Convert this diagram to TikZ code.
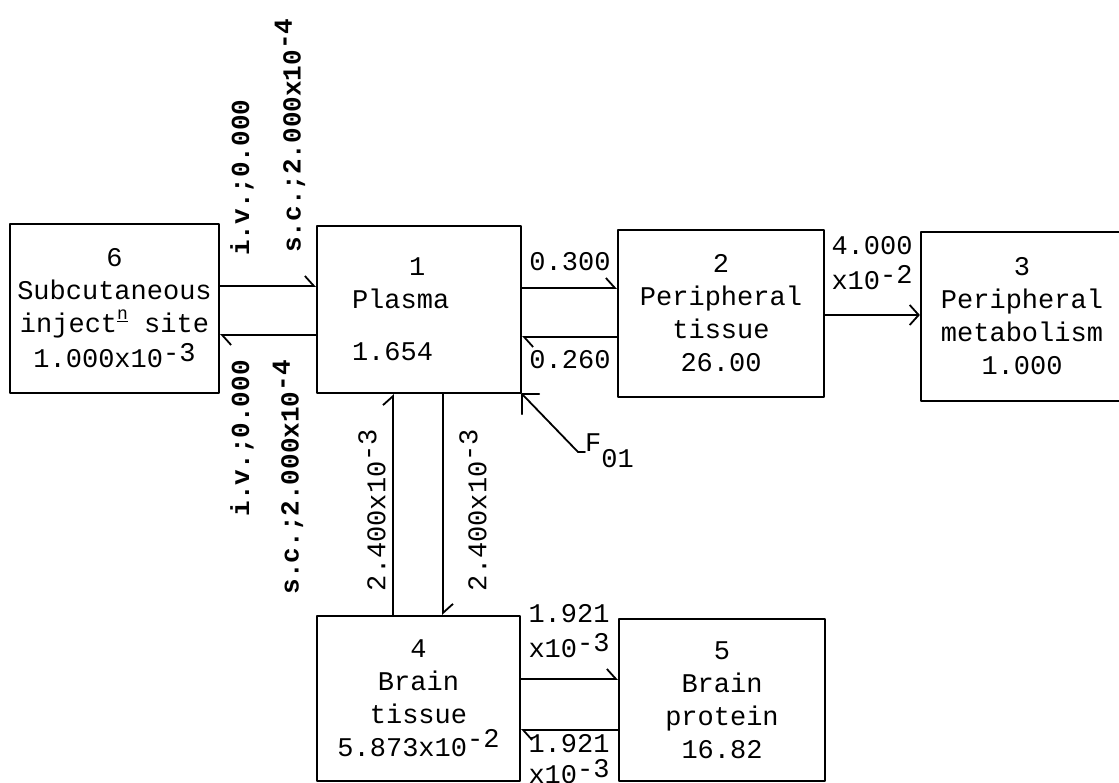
\documentclass[tikz,border=0pt]{standalone}
\usepackage{fontspec}
\setmonofont{Liberation Mono}
\usetikzlibrary{arrows.meta}
\newcommand{\up}[1]{\raisebox{0.33em}{#1}}
\newcommand{\lup}[1]{\raisebox{0.22em}{#1}}

\begin{document}
\begin{tikzpicture}[x=1pt,y=1pt,line cap=round,line join=round,
  box/.style={draw,line width=2.2pt,inner sep=0pt,align=center,font=\ttfamily\fontsize{27}{33}\selectfont},
  lbl/.style={inner sep=0pt,font=\ttfamily\fontsize{27}{35}\selectfont},
  ivlbl/.style={inner sep=0pt,font=\ttfamily\bfseries\fontsize{26}{30}\selectfont},
  flow/.style={line width=1.8pt,-{Straight Barb[harpoon,length=9pt,width=20pt]}},
  flowfull/.style={line width=1.8pt,-{Straight Barb[length=9pt,width=20pt]}}]
\path[use as bounding box] (0,0) rectangle (1119,783);
\node[box,minimum width=209pt,minimum height=169pt] (b6) at (114.5,474.5) {6\\Subcutaneous\\inject\raisebox{0.5em}{\fontsize{18}{18}\selectfont\underline{n}} site\\[2pt]1.000x10\lup{-3}};
\node[box,minimum width=204pt,minimum height=167pt,align=left,text width=134pt] (b1) at (419,473.5) {\hspace*{57pt}1\\Plasma\\[19pt]1.654};
\node[box,minimum width=206pt,minimum height=167pt] (b2) at (721,469.5) {2\\Peripheral\\tissue\\26.00};
\node[box,minimum width=202pt,minimum height=169pt] (b3) at (1022,466.5) {3\\Peripheral\\metabolism\\1.000};
\node[box,minimum width=203pt,minimum height=165pt] (b4) at (418.5,84.5) {4\\Brain\\tissue\\5.873x10\up{-2}};
\node[box,minimum width=206pt,minimum height=162pt] (b5) at (722,83) {5\\Brain\\protein\\16.82};
\coordinate (r61) at (0,497);
\coordinate (r16) at (0,448);
\coordinate (r12) at (0,495);
\coordinate (r21) at (0,446);
\coordinate (r23) at (0,468);
\coordinate (r45) at (0,104);
\coordinate (r54) at (0,53);
\coordinate (c41) at (393,0);
\coordinate (c14) at (443,0);
\draw[flow] (b6.east |- r61) -- (b1.west |- r61);
\draw[flow] (b1.west |- r16) -- (b6.east |- r16);
\draw[flow] (b1.east |- r12) -- (b2.west |- r12);
\draw[flow] (b2.west |- r21) -- (b1.east |- r21);
\draw[flowfull] (b2.east |- r23) -- (b3.west |- r23);
\draw[flow] (b4.north -| c41) -- (b1.south -| c41);
\draw[flow] (b1.south -| c14) -- (b4.north -| c14);
\draw[flow] (b4.east |- r45) -- (b5.west |- r45);
\draw[flow] (b5.west |- r54) -- (b4.east |- r54);
\node[ivlbl,rotate=90,anchor=west] (iv61) at (242,527) {i.v.;0.000};
\node[ivlbl,rotate=90,anchor=west] (sc61) at (290,530) {s.c.;2.000x10\up{-4}};
\node[ivlbl,rotate=90,anchor=east] (iv16) at (242,423) {i.v.;0.000};
\node[ivlbl,rotate=90,anchor=east] (sc16) at (288,423) {s.c.;2.000x10\up{-4}};
\node[lbl] (k12) at (570,521) {0.300};
\node[lbl] (k21) at (570,423) {0.260};
\node[lbl,align=left] (k23) at (872,520) {4.000\\x10\lup{-2}};
\node[lbl,rotate=90] (k41) at (372,273) {2.400x10\up{-3}};
\node[lbl,rotate=90] (k14) at (473,273) {2.400x10\up{-3}};
\node[lbl,align=left] (k45) at (569,152) {1.921\\x10\lup{-3}};
\node[lbl,align=left,anchor=north,font=\ttfamily\fontsize{27}{31}\selectfont] (k54) at (569,49) {1.921\\x10\lup{-3}};
\draw[line width=1.8pt] (b1.south east) -- ++(17,0) (b1.south east) -- ++(0,-20);
\node[lbl,anchor=base west] (f01) at (585,331) {F\raisebox{-16pt}{01}};
\draw[line width=1.8pt] (b1.south east) -- ([xshift=-7pt]f01.base west) -- (f01.base west);
\end{tikzpicture}
\end{document}
